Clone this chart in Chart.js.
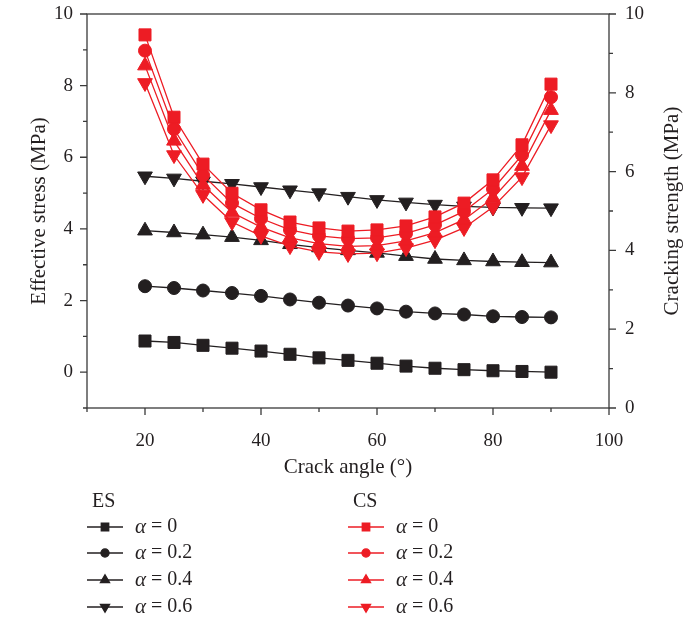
<!DOCTYPE html>
<html>
<head>
<meta charset="utf-8">
<script src="https://cdn.jsdelivr.net/npm/chart.js@4.4.1/dist/chart.umd.min.js"></script>
<style>
  body { margin: 0; background: #fff; }
  #wrap { width: 687px; height: 620px; }
</style>
</head>
<body>
<div id="wrap"><canvas id="stressChart" width="687" height="620"></canvas></div>
<script>
const angles = [20, 25, 30, 35, 40, 45, 50, 55, 60, 65, 70, 75, 80, 85, 90];
const alphaValues = ["0", "0.2", "0.4", "0.6"];

// effective stress, left axis
const esAlpha0 = [0.87, 0.83, 0.75, 0.67, 0.59, 0.50, 0.40, 0.33, 0.25, 0.17, 0.11, 0.07, 0.04, 0.02, 0.0];
const esAlpha02 = [2.40, 2.35, 2.28, 2.21, 2.13, 2.03, 1.94, 1.86, 1.78, 1.69, 1.64, 1.61, 1.56, 1.54, 1.53];
const esAlpha04 = [3.95, 3.90, 3.84, 3.77, 3.68, 3.57, 3.48, 3.40, 3.33, 3.24, 3.16, 3.12, 3.09, 3.07, 3.06];
const esAlpha06 = [5.47, 5.41, 5.33, 5.26, 5.17, 5.08, 5.00, 4.90, 4.81, 4.74, 4.68, 4.63, 4.60, 4.59, 4.58];

// cracking strength, right axis
const csAlpha0 = [9.47, 7.38, 6.19, 5.45, 5.03, 4.72, 4.57, 4.49, 4.52, 4.62, 4.85, 5.20, 5.79, 6.68, 8.22];
const csAlpha02 = [9.07, 7.08, 5.91, 5.20, 4.81, 4.52, 4.37, 4.30, 4.32, 4.43, 4.65, 4.99, 5.56, 6.42, 7.89];
const csAlpha04 = [8.69, 6.78, 5.66, 4.96, 4.59, 4.32, 4.17, 4.10, 4.12, 4.24, 4.45, 4.78, 5.33, 6.14, 7.56];
const csAlpha06 = [8.25, 6.42, 5.41, 4.72, 4.37, 4.11, 3.96, 3.91, 3.93, 4.06, 4.26, 4.57, 5.10, 5.86, 7.18];

const xTicks = [10, 20, 30, 40, 50, 60, 70, 80, 90, 100];
const xLabelled = [20, 40, 60, 80, 100];
const leftTicks = [-1, 0, 1, 2, 3, 4, 5, 6, 7, 8, 9, 10];
const rightTicks = [0, 1, 2, 3, 4, 5, 6, 7, 8, 9, 10];
const yLabelled = [0, 2, 4, 6, 8, 10];

const BLACK = "#231f20";
const RED = "#ed1c24";
const AXIS = "#3a3a3a";
const FONT = '"Liberation Serif", "DejaVu Serif", serif';

const markers = [
  { pointStyle: "rect", rotation: 0, radius: 8.5 },
  { pointStyle: "circle", rotation: 0, radius: 6.5 },
  { pointStyle: "triangle", rotation: 0, radius: 8.5 },
  { pointStyle: "triangle", rotation: 180, radius: 8.5 }
];

function series(label, values, color, m, axis) {
  return {
    label: label,
    data: angles.map((a, i) => ({ x: a, y: values[i] })),
    yAxisID: axis,
    borderColor: color,
    backgroundColor: color,
    borderWidth: 1.3,
    pointStyle: m.pointStyle,
    rotation: m.rotation,
    pointRadius: m.radius,
    pointHoverRadius: m.radius,
    pointBorderWidth: 1,
    tension: 0
  };
}

const csSets = [csAlpha0, csAlpha02, csAlpha04, csAlpha06];
const esSets = [esAlpha0, esAlpha02, esAlpha04, esAlpha06];
const datasets = [];
csSets.forEach((vals, i) => datasets.push(series("CS α = " + alphaValues[i], vals, RED, markers[i], "yRight")));
esSets.forEach((vals, i) => datasets.push(series("ES α = " + alphaValues[i], vals, BLACK, markers[i], "yLeft")));

// keep the plot box fixed: no extra room for overhanging end labels
function noOverhang(s) {
  s.paddingTop = 0;
  s.paddingBottom = 0;
  s.paddingLeft = 0;
  s.paddingRight = 0;
}

// frame plus major/minor tick marks, drawn outward; right title reads bottom-up
const frameTicks = {
  id: "frameTicks",
  afterDraw(chart) {
    const ctx = chart.ctx;
    const a = chart.chartArea;
    const sx = chart.scales.x, yl = chart.scales.yLeft, yr = chart.scales.yRight;
    ctx.save();
    ctx.strokeStyle = AXIS;
    ctx.lineWidth = 1.3;
    ctx.strokeRect(a.left, a.top, a.right - a.left, a.bottom - a.top);
    ctx.beginPath();
    xTicks.forEach(v => {
      const px = sx.getPixelForValue(v);
      const len = xLabelled.includes(v) ? 7 : 4;
      ctx.moveTo(px, a.bottom);
      ctx.lineTo(px, a.bottom + len);
    });
    leftTicks.forEach(v => {
      const py = yl.getPixelForValue(v);
      const len = yLabelled.includes(v) ? 7 : 4;
      ctx.moveTo(a.left, py);
      ctx.lineTo(a.left - len, py);
    });
    rightTicks.forEach(v => {
      const py = yr.getPixelForValue(v);
      const len = yLabelled.includes(v) ? 7 : 4;
      ctx.moveTo(a.right, py);
      ctx.lineTo(a.right + len, py);
    });
    ctx.stroke();

    ctx.translate(672, (a.top + a.bottom) / 2);
    ctx.rotate(-Math.PI / 2);
    ctx.fillStyle = BLACK;
    ctx.font = "21px " + FONT;
    ctx.textAlign = "center";
    ctx.textBaseline = "middle";
    ctx.fillText("Cracking strength (MPa)", 0, 0);
    ctx.restore();
  }
};

// two-column legend under the axis: ES (black) and CS (red)
const groupLegend = {
  id: "groupLegend",
  afterDraw(chart) {
    const ctx = chart.ctx;
    const rows = [527, 553, 580, 607];
    const cols = [
      { head: "ES", x: 87, color: BLACK },
      { head: "CS", x: 348, color: RED }
    ];
    ctx.save();
    ctx.textBaseline = "middle";
    cols.forEach(col => {
      ctx.fillStyle = BLACK;
      ctx.font = "20px " + FONT;
      ctx.textAlign = "left";
      ctx.fillText(col.head, col.x + 5, 502);
      rows.forEach((y, i) => {
        ctx.strokeStyle = col.color;
        ctx.lineWidth = 1.3;
        ctx.beginPath();
        ctx.moveTo(col.x, y);
        ctx.lineTo(col.x + 36, y);
        ctx.stroke();
        ctx.fillStyle = col.color;
        Chart.helpers.drawPoint(ctx, {
          pointStyle: markers[i].pointStyle,
          rotation: markers[i].rotation,
          radius: markers[i].radius * 0.62,
          borderWidth: 1
        }, col.x + 18, y);
        ctx.fillStyle = BLACK;
        ctx.font = "italic 21px " + FONT;
        ctx.fillText("α", col.x + 48, y);
        const w = ctx.measureText("α").width;
        ctx.font = "20px " + FONT;
        ctx.fillText(" = " + alphaValues[i], col.x + 48 + w, y);
      });
    });
    ctx.restore();
  }
};

new Chart(document.getElementById("stressChart"), {
  type: "line",
  data: { datasets: datasets },
  plugins: [frameTicks, groupLegend],
  options: {
    responsive: false,
    devicePixelRatio: 1,
    animation: false,
    layout: { padding: { top: 14, bottom: 132, left: 0, right: 0 } },
    plugins: { legend: { display: false }, tooltip: { enabled: false } },
    scales: {
      x: {
        type: "linear",
        min: 10,
        max: 100,
        afterBuildTicks: s => { s.ticks = xTicks.map(v => ({ value: v })); },
        afterFit: s => { s.height = 80; noOverhang(s); },
        grid: { display: false, drawTicks: false },
        border: { display: false },
        ticks: {
          autoSkip: false,
          maxRotation: 0,
          padding: 22,
          color: BLACK,
          font: { family: FONT, size: 19 },
          callback: v => (xLabelled.includes(v) ? String(v) : "")
        },
        title: {
          display: true,
          text: "Crack angle (°)",
          color: BLACK,
          font: { family: FONT, size: 21 },
          padding: { top: 4, bottom: 8 }
        }
      },
      yLeft: {
        type: "linear",
        position: "left",
        min: -1,
        max: 10,
        afterBuildTicks: s => { s.ticks = leftTicks.map(v => ({ value: v })); },
        afterFit: s => { s.width = 87; noOverhang(s); },
        grid: { display: false, drawTicks: false },
        border: { display: false },
        ticks: {
          autoSkip: false,
          padding: 14,
          color: BLACK,
          font: { family: FONT, size: 19 },
          callback: v => (yLabelled.includes(v) ? String(v) : "")
        },
        title: {
          display: true,
          text: "Effective stress (MPa)",
          color: BLACK,
          font: { family: FONT, size: 21 },
          padding: { top: 27, bottom: 0 }
        }
      },
      yRight: {
        type: "linear",
        position: "right",
        min: 0,
        max: 10,
        afterBuildTicks: s => { s.ticks = rightTicks.map(v => ({ value: v })); },
        afterFit: s => { s.width = 78; noOverhang(s); },
        grid: { display: false, drawTicks: false },
        border: { display: false },
        ticks: {
          autoSkip: false,
          padding: 16,
          color: BLACK,
          font: { family: FONT, size: 19 },
          callback: v => (yLabelled.includes(v) ? String(v) : "")
        }
      }
    }
  }
});
</script>
</body>
</html>
